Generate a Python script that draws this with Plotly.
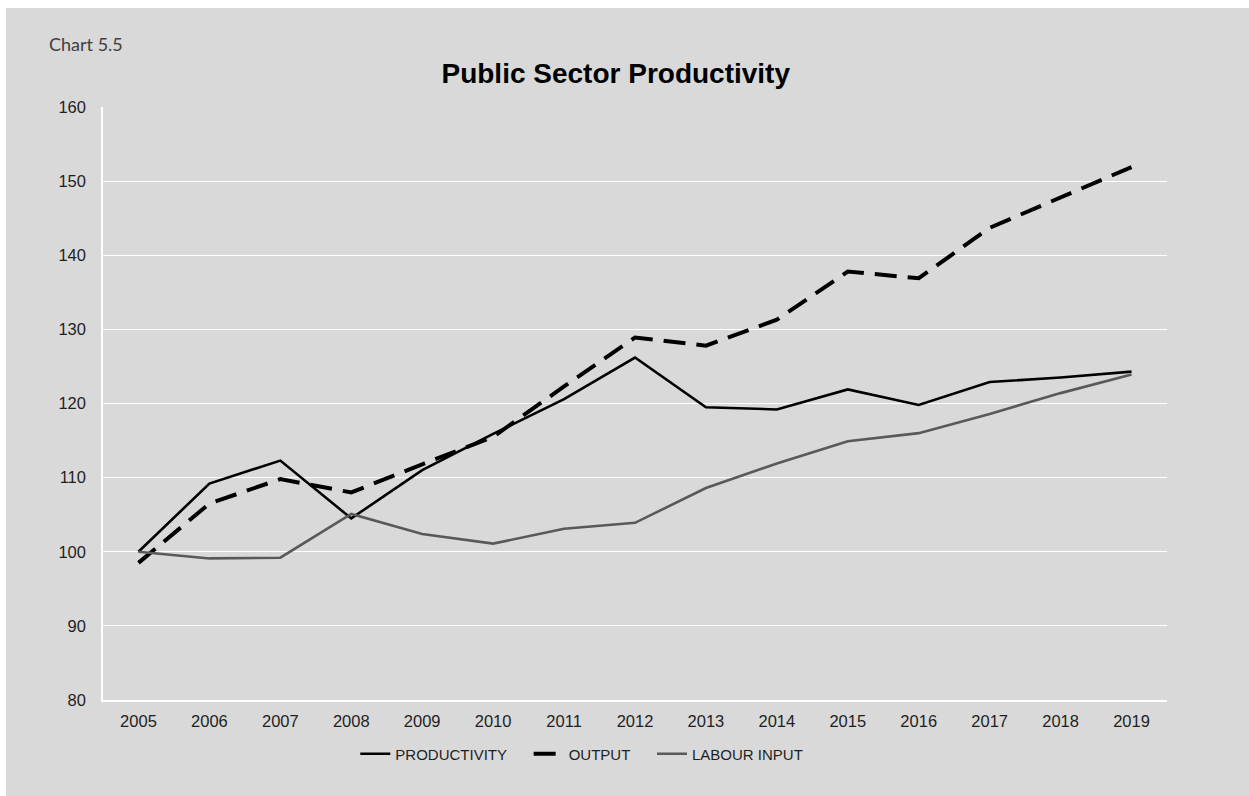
import plotly.graph_objects as go

# Index values, 2005 = 100
years = [str(y) for y in range(2005, 2020)]
productivity = [100.0, 109.2, 112.3, 104.5, 111.0, 115.9, 120.6, 126.2, 119.5, 119.2, 121.9, 119.8, 122.9, 123.5, 124.3]
output = [98.5, 106.5, 109.8, 108.0, 111.8, 115.5, 122.3, 128.9, 127.8, 131.3, 137.8, 136.9, 143.7, 147.8, 151.9]
labour_input = [100.0, 99.1, 99.2, 105.1, 102.4, 101.1, 103.1, 103.9, 108.6, 111.9, 114.9, 116.0, 118.6, 121.4, 123.9]

BG = "#d9d9d9"
TXT = "#1f1f1f"
FONT = "Liberation Sans, Arial, sans-serif"
PAD = "\u00a0" * 4  # extra spacing between legend entries

fig = go.Figure()
fig.add_trace(go.Scatter(x=years, y=productivity, name="PRODUCTIVITY" + PAD, mode="lines",
                         line=dict(color="#000000", width=2.6)))
fig.add_trace(go.Scatter(x=years, y=output, name="OUTPUT" + PAD, mode="lines",
                         line=dict(color="#000000", width=4, dash="22px,11px")))
fig.add_trace(go.Scatter(x=years, y=labour_input, name="LABOUR INPUT", mode="lines",
                         line=dict(color="#595959", width=2.6)))

fig.update_layout(
    width=1249, height=796,
    margin=dict(l=103, r=82, t=107, b=96),
    paper_bgcolor=BG, plot_bgcolor=BG,
    font=dict(family=FONT, size=16.5, color=TXT),
    title=dict(text="<b>Public Sector Productivity</b>", x=0.493, xanchor="center",
               y=1 - 73 / 796, yanchor="middle",
               font=dict(family=FONT, size=28, color="#000000")),
    showlegend=True,
    legend=dict(orientation="h", x=0.45, xanchor="center", y=-0.091, yanchor="middle",
                font=dict(family=FONT, size=15, color=TXT), bgcolor="rgba(0,0,0,0)"),
    xaxis=dict(type="category", range=[-0.5, 14.5], showgrid=False, showline=True,
               linecolor="#ffffff", linewidth=2,
               ticks="outside", ticklen=5, tickcolor="rgba(0,0,0,0)",
               tickfont=dict(family=FONT, size=16.5, color=TXT)),
    yaxis=dict(range=[80, 160], dtick=10, showgrid=True, gridcolor="#ffffff", gridwidth=1.3,
               showline=True, linecolor="#ffffff", linewidth=1.5, zeroline=False,
               ticks="outside", ticklen=12, tickcolor="rgba(0,0,0,0)",
               tickfont=dict(family=FONT, size=16.5, color=TXT)),
    shapes=[
        # white frame strips along the top and left edges of the page
        dict(type="rect", xref="paper", yref="paper", x0=-0.2, x1=1.2,
             y0=(700 - 8) / 593, y1=1.3, fillcolor="#ffffff", line=dict(width=0), layer="above"),
        dict(type="rect", xref="paper", yref="paper", x0=-0.2, x1=(6 - 103) / 1064,
             y0=-0.3, y1=1.3, fillcolor="#ffffff", line=dict(width=0), layer="above"),
    ],
    annotations=[
        dict(text="Chart 5.5", xref="paper", yref="paper", x=(47 - 103) / 1064, xanchor="left",
             y=(700 - 44) / 593, yanchor="middle", showarrow=False,
             font=dict(family="Lato, sans-serif", size=18, color="#404040")),
    ],
)

fig.write_html("out.html")
